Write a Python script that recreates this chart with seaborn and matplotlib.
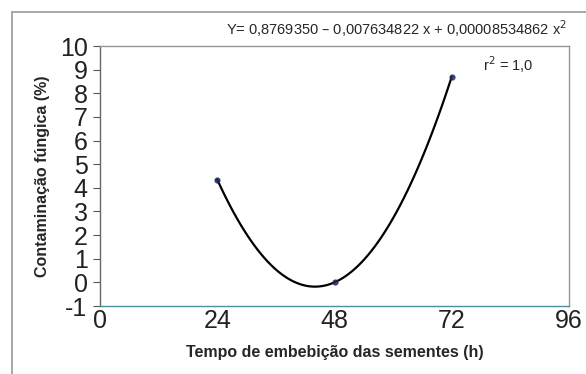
import numpy as np
import pandas as pd
import matplotlib
matplotlib.use("Agg")
import matplotlib.pyplot as plt
import seaborn as sns

sns.set_style("white")
plt.rcParams['font.family'] = ['Liberation Sans', 'DejaVu Sans']
plt.rcParams['axes.unicode_minus'] = False

# data
tempo = [24, 48, 72]
contaminacao = [4.35, 0.0, 8.7]
x_ticks = [0, 24, 48, 72, 96]
y_ticks = list(range(-1, 11))

df = pd.DataFrame({"tempo": tempo, "contaminacao": contaminacao})

fig = plt.figure(figsize=(5.86, 3.74), dpi=100)
ax = fig.add_axes([100 / 586, 1 - 306 / 374, 469 / 586, 260 / 374])

# quadratic trend line through the points
sns.regplot(data=df, x="tempo", y="contaminacao", order=2, ci=None, ax=ax,
            scatter_kws=dict(marker="D", s=12, color="#1f2a5c", zorder=3),
            line_kws=dict(color="black", lw=1.6))

ax.set_xlim(0, 96)
ax.set_ylim(-1, 10)
ax.set_xticks(x_ticks)
ax.set_yticks(y_ticks)
ax.tick_params(axis="both", labelsize=18, colors="#222222")
ax.tick_params(axis="y", direction="out", length=5, width=0.8, color="#555555",
               left=True, pad=4)
ax.tick_params(axis="x", length=0, pad=2)

ax.set_xlabel("Tempo de embebição das sementes (h)", fontsize=11.5, fontweight="bold", labelpad=9)
ax.set_ylabel("Contaminação fúngica (%)", fontsize=11.5, fontweight="bold", labelpad=7)

ax.spines["left"].set_color("#666666")
ax.spines["bottom"].set_color("#4a8fa0")
ax.spines["top"].set_color("#909898")
ax.spines["right"].set_color("#909898")
for s in ax.spines.values():
    s.set_linewidth(1.0)

fig.text(567 / 586, 1 - 29 / 374,
         "Y= 0,8769350 – 0,007634822 x + 0,00008534862 x$^{2}$",
         ha="right", va="center", fontsize=10.5)
ax.text(483 / 586, 1 - 65 / 374, "r$^{2}$ = 1,0", transform=fig.transFigure,
        ha="left", va="center", fontsize=10.5)

# outer frame (left and top only visible)
fig.add_artist(plt.Line2D([12 / 586, 12 / 586], [0, 1 - 12 / 374],
                          transform=fig.transFigure, color="#999999", lw=1.2))
fig.add_artist(plt.Line2D([12 / 586, 1], [1 - 12 / 374, 1 - 12 / 374],
                          transform=fig.transFigure, color="#999999", lw=1.2))

fig.savefig("out.png", dpi=100)
